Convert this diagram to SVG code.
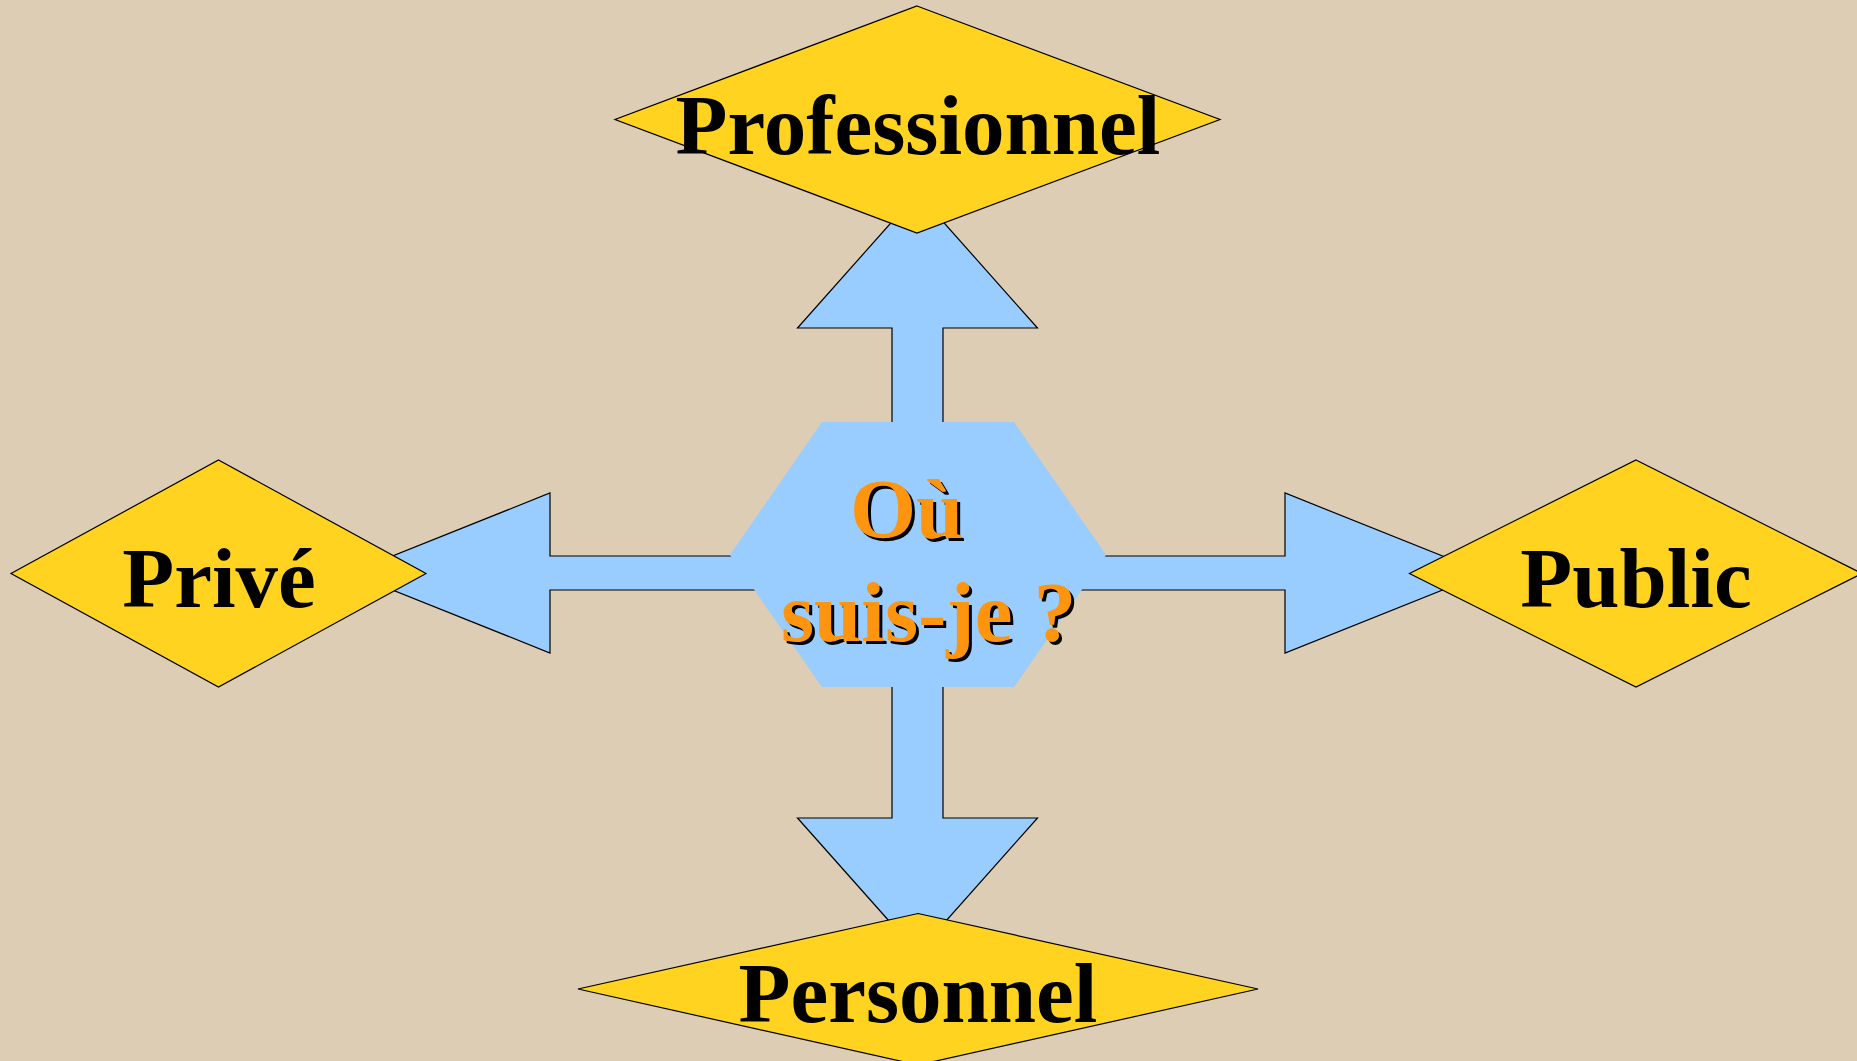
<svg xmlns="http://www.w3.org/2000/svg" width="1857" height="1061" viewBox="0 0 1857 1061">
<style>
.dia{fill:#ffd320;stroke:#000;stroke-width:1.2}
.lbl{font-family:"Liberation Serif","Times New Roman",serif;font-weight:bold;font-size:85px;fill:#000}
.ctr{font-family:"Liberation Serif","Times New Roman",serif;font-weight:bold;font-size:85px}
.arrow{fill:#99ccff;stroke:#000;stroke-width:1.2;stroke-linejoin:miter}
</style>
<rect width="1857" height="1061" fill="#dccdb4"/>
<g id="connectors">
<polygon class="arrow" points="917.5,193 1037.5,328 943,328 943,556 1285,556 1285,493 1485,573 1285,653 1285,590 943,590 943,818 1037.5,818 917.5,953 797.5,818 892,818 892,590 550,590 550,653 350,573 550,493 550,556 892,556 892,328 797.5,328"/>
</g>
<g id="center">
<polygon points="822,422 1014,422 1106,555 1014,687 822,687 730,555" fill="#99ccff"/>
<g class="ctr">
<text x="853" y="541" fill="#000">Où</text>
<text x="784" y="644" fill="#000">suis-je ?</text>
<text x="850" y="538" fill="#ff950e">Où</text>
<text x="781" y="641" fill="#ff950e">suis-je ?</text>
</g>
</g>
<g id="professionnel">
<polygon class="dia" points="917,6 1220,119.5 917,233 615,119.5"/>
<text class="lbl" x="918" y="154" text-anchor="middle">Professionnel</text>
</g>
<g id="prive">
<polygon class="dia" points="218.5,460 426,573.5 218.5,687 11,573.5"/>
<text class="lbl" x="219" y="607" text-anchor="middle">Privé</text>
</g>
<g id="public">
<polygon class="dia" points="1636,460 1862,573.5 1636,687 1409.5,573.5"/>
<text class="lbl" x="1636" y="607" text-anchor="middle">Public</text>
</g>
<g id="personnel">
<polygon class="dia" points="918,913.5 1258,989 918,1065 578,989"/>
<text class="lbl" x="918" y="1022" text-anchor="middle">Personnel</text>
</g>
</svg>
